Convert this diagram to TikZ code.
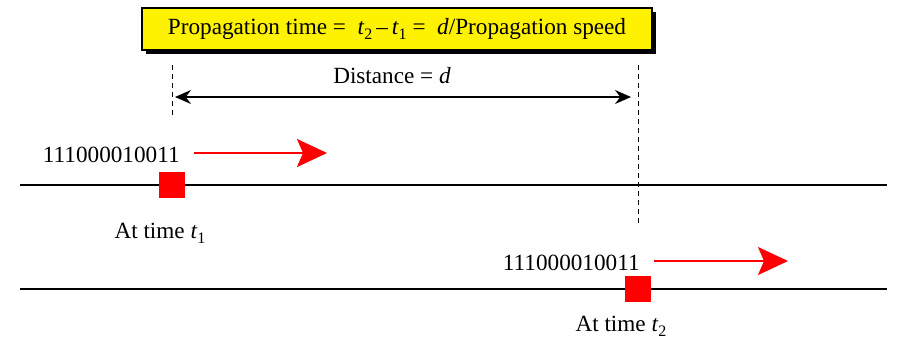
\documentclass[tikz,border=0pt]{standalone}
\usepackage{fontspec}
\setmainfont{Liberation Serif}
\usetikzlibrary{arrows.meta,shadows}
\newcommand{\tvar}[1]{\textit{t}\raisebox{-.45ex}{\footnotesize #1}}
\begin{document}
\begin{tikzpicture}[x=0.5pt,y=-0.5pt,
 every node/.style={font=\fontsize{11.6}{14}\selectfont},
 wire/.style={line width=1pt},
 bitblock/.style={fill=red,minimum size=13pt,inner sep=0pt},
 move/.style={red,line width=1pt,-{Stealth[length=15pt,width=14pt,inset=3pt]}},
 guide/.style={line width=.5pt,dash pattern=on 2.5pt off 2pt},
 label/.style={inner sep=1pt}]
 \useasboundingbox (0,0) rectangle (903,343);
 % title box
 \node[draw,fill=yellow,line width=.6pt,minimum width=255pt,minimum height=21pt,
   drop shadow={fill=black,opacity=1,shadow xshift=2pt,shadow yshift=-2pt}] (title) at (397,29)
   {Propagation time = \ \tvar{2}\,--\,\tvar{1} = \ \textit{d}/Propagation speed};
 % wires
 \coordinate (w1a) at (20,185); \coordinate (w1b) at (887,185);
 \coordinate (w2a) at (20,289); \coordinate (w2b) at (887,289);
 \draw[wire] (w1a) -- (w1b);
 \draw[wire] (w2a) -- (w2b);
 % bit blocks
 \node[bitblock] (sq1) at (172,185) {};
 \node[bitblock] (sq2) at (638,289) {};
 \node[label,anchor=east] (bits1) at (182,155) {111000010011};
 \node[label,anchor=east] (bits2) at (642,263) {111000010011};
 \node[label] (t1) at (160,233) {At time \tvar{1}};
 \node[label] (t2) at (621,326) {At time \tvar{2}};
 \coordinate (a1) at (327,153); \coordinate (a2) at (788,261);
 \draw[move] (bits1.east) ++(12,-2) -- (a1);
 \draw[move] (bits2.east) ++(12,-2) -- (a2);
 % distance
 \coordinate (g1a) at (172,65); \coordinate (g1b) at (172,116);
 \coordinate (g2a) at (638,65); \coordinate (g2b) at (638,226);
 \draw[guide] (g1a) -- (g1b);
 \draw[guide] (g2a) -- (g2b);
 \coordinate (d1) at (175,97); \coordinate (d2) at (631,97);
 \draw[line width=.8pt,{Stealth[length=8pt,width=7pt]}-{Stealth[length=8pt,width=7pt]}] (d1) -- (d2);
 \node[label] (dist) at (392,76) {Distance = \textit{d}};
\end{tikzpicture}
\end{document}
